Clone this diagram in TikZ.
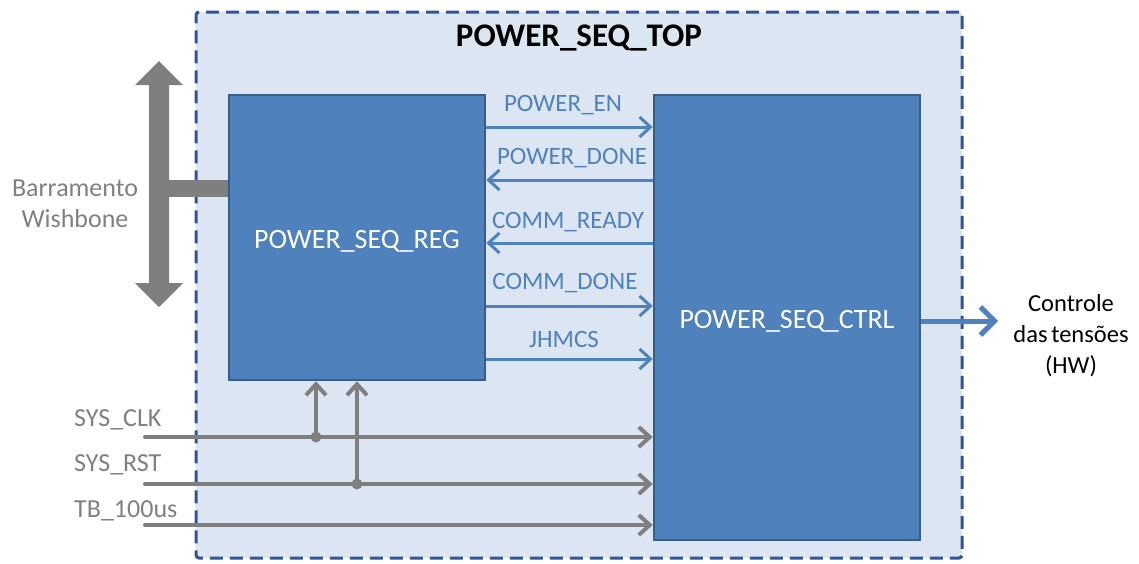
\documentclass[tikz,border=0pt]{standalone}
\usepackage{fontspec}
\setmainfont{Carlito}
\usetikzlibrary{arrows.meta}
\definecolor{topfill}{HTML}{DCE6F2}
\definecolor{topline}{HTML}{2F5597}
\definecolor{blockfill}{HTML}{4F81BD}
\definecolor{blockline}{HTML}{385D8A}
\definecolor{sigblue}{HTML}{4F81BD}
\definecolor{busgray}{HTML}{7F7F7F}
\definecolor{txtgray}{HTML}{808080}
\begin{document}
\begin{tikzpicture}[x=1pt,y=-1pt,
  topbox/.style={draw=topline, fill=topfill, line width=3pt,
    dash pattern=on 13pt off 7pt, rounded corners=3pt, inner sep=0pt},
  block/.style={draw=blockline, fill=blockfill, line width=2.5pt, inner sep=0pt,
    text=white, font=\fontsize{28}{32}\selectfont},
  siglabel/.style={text=sigblue, font=\fontsize{25}{30}\selectfont, inner sep=0pt},
  graylabel/.style={text=txtgray, font=\fontsize{26}{31}\selectfont, inner sep=0pt},
  sig/.style={draw=sigblue, line width=3pt,
    -{Straight Barb[length=11pt,width=20pt,line width=3pt]}},
  gsig/.style={draw=busgray, line width=4pt, line cap=round,
    -{Straight Barb[length=11pt,width=20pt,line width=4pt]}},
  outarr/.style={draw=sigblue, line width=5pt,
    -{Straight Barb[length=14pt,width=28pt,line width=5pt]}},
  junction/.style={circle, fill=busgray, inner sep=0pt, minimum size=11pt}]
\useasboundingbox (0,0) rectangle (1139,563);

% enclosing module
\node[topbox, minimum width=766pt, minimum height=546pt] (top) at (579,285) {};
\node[font=\fontsize{33}{38}\selectfont\bfseries, inner sep=0pt] (title) at (579,38) {POWER\_SEQ\_TOP};

% register block and controller
\node[block, minimum width=256pt, minimum height=285pt] (reg) at (357,237.5) {};
\node[text=white, font=\fontsize{28}{32}\selectfont, inner sep=0pt] (regtxt) at (357,241) {POWER\_SEQ\_REG};
\node[block, minimum width=266pt, minimum height=445pt] (ctrl) at (787,317.5) {};
\node[text=white, font=\fontsize{28}{32}\selectfont, inner sep=0pt] (ctrltxt) at (787,321) {POWER\_SEQ\_CTRL};

% Wishbone bus
\fill[busgray] (159,61) -- (183,85) -- (169,85) -- (169,283) -- (183,283) -- (159,307)
  -- (135,283) -- (149,283) -- (149,85) -- (135,85) -- cycle;
\coordinate (busstub) at (159,188.5);
\draw[busgray, line width=17pt] (busstub) -- (reg.west |- busstub);
\node[graylabel, align=center] (wb) at (75,204) {Barramento\\Wishbone};

% handshake signals between the blocks
\coordinate (yen) at (0,127);
\coordinate (ydone) at (0,180);
\coordinate (yready) at (0,243);
\coordinate (ycdone) at (0,306);
\coordinate (yjh) at (0,359);
\draw[sig] (reg.east |- yen) -- (ctrl.west |- yen);
\draw[sig] (ctrl.west |- ydone) -- (reg.east |- ydone);
\draw[sig] (ctrl.west |- yready) -- (reg.east |- yready);
\draw[sig] (reg.east |- ycdone) -- (ctrl.west |- ycdone);
\draw[sig] (reg.east |- yjh) -- (ctrl.west |- yjh);
\node[siglabel] (len) at (563,105) {POWER\_EN};
\node[siglabel] (ldone) at (572,158) {POWER\_DONE};
\node[siglabel] (lready) at (568,222) {COMM\_READY};
\node[siglabel] (lcdone) at (565,283) {COMM\_DONE};
\node[siglabel] (ljh) at (564,339) {JHMCS};

% output to hardware
\node[font=\fontsize{24.5}{31}\selectfont, align=center, inner sep=0pt] (hw) at (1071,336) {Controle\\das\hspace{0.15em}tensões\\(HW)};
\coordinate (hwtip) at (998,321);
\draw[outarr] (ctrl.east |- hwtip) -- (hwtip);

% global inputs
\coordinate (clkin) at (145,437);
\coordinate (rstin) at (145,484);
\coordinate (tbin) at (145,525);
\node[graylabel, anchor=west] (lclk) at (74,420) {SYS\_CLK};
\node[graylabel, anchor=west] (lrst) at (74,465) {SYS\_RST};
\node[graylabel, anchor=west] (ltb) at (74,511) {TB\_100us};
\draw[gsig] (clkin) -- (ctrl.west |- clkin);
\draw[gsig] (rstin) -- (ctrl.west |- rstin);
\draw[gsig] (tbin) -- (ctrl.west |- tbin);
\coordinate (clkj) at (316,437);
\coordinate (rstj) at (357,484);
\draw[gsig] (clkj) -- (reg.south -| clkj);
\draw[gsig] (rstj) -- (reg.south -| rstj);
\node[junction] (dclk) at (clkj) {};
\node[junction] (drst) at (rstj) {};
\end{tikzpicture}
\end{document}
